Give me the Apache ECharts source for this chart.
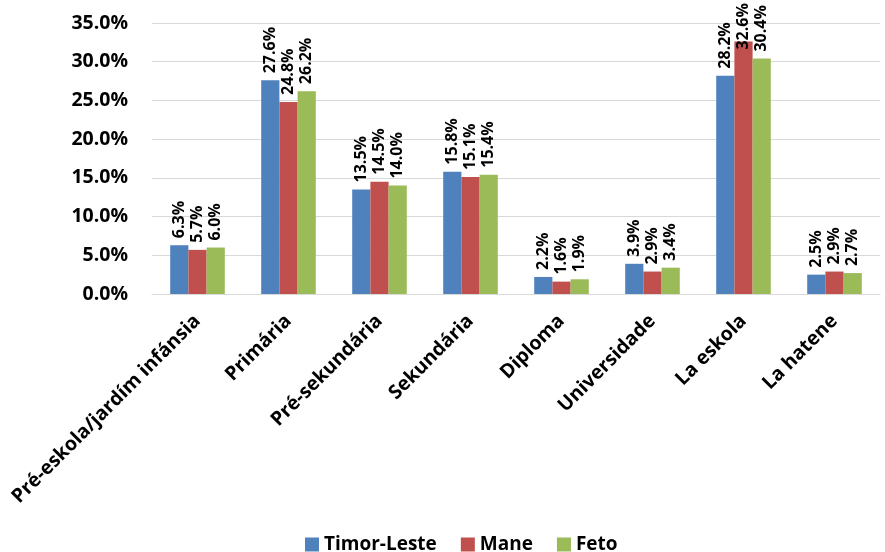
<!DOCTYPE html>
<html>
<head>
<meta charset="utf-8">
<script src="https://cdn.jsdelivr.net/npm/echarts@6/dist/echarts.min.js"></script>
<style>
  html, body { margin: 0; padding: 0; background: #fff; }
  #chart { width: 885px; height: 552px; }
</style>
</head>
<body>
<div id="chart"></div>
<script>
// data
const categories = ['Pré-eskola/jardím infánsia', 'Primária', 'Pré-sekundária', 'Sekundária', 'Diploma', 'Universidade', 'La eskola', 'La hatene']
const timorLeste = [6.3, 27.6, 13.5, 15.8, 2.2, 3.9, 28.2, 2.5]
const mane = [5.7, 24.8, 14.5, 15.1, 1.6, 2.9, 32.6, 2.9]
const feto = [6.0, 26.2, 14.0, 15.4, 1.9, 3.4, 30.4, 2.7]
const seriesNames = ['Timor-Leste', 'Mane', 'Feto']
const colors = ['#4f81bd', '#c0504d', '#9bbb59']

const font = 'Open Sans'
const myChart = echarts.init(document.getElementById('chart'))

function makeSeries(name, data, color) {
  return {
    name: name,
    type: 'bar',
    // labels that would run off the top get pushed back down onto the bar
    data: data.map(v => v > 31 ? { value: v, label: { distance: -8 } } : v),
    barGap: '0%',
    barCategoryGap: '40%',
    itemStyle: { color: color },
    label: {
      show: true,
      position: 'top',
      rotate: 90,
      align: 'left',
      verticalAlign: 'middle',
      distance: 7,
      color: '#000',
      fontFamily: font,
      fontWeight: 'bold',
      fontSize: 16,
      formatter: p => p.value.toFixed(1) + '%'
    }
  }
}

const option = {
  animation: false,
  color: colors,
  grid: {
    left: 152,
    right: 5,
    top: 23,
    bottom: 258
  },
  legend: {
    top: 530,
    left: 300,
    itemWidth: 14,
    itemHeight: 14,
    itemGap: 24,
    icon: 'rect',
    textStyle: { fontFamily: font, fontWeight: 'bold', fontSize: 19, color: '#000' },
    data: seriesNames
  },
  xAxis: {
    type: 'category',
    data: categories,
    axisTick: { show: false },
    axisLine: { lineStyle: { color: '#d9d9d9' } },
    axisLabel: {
      rotate: 45,
      interval: 0,
      margin: 24,
      color: '#000',
      fontFamily: font,
      fontWeight: 'bold',
      fontSize: 19.5
    }
  },
  yAxis: {
    type: 'value',
    min: 0,
    max: 35,
    interval: 5,
    axisLine: { show: false },
    axisTick: { show: false },
    splitLine: { lineStyle: { color: '#d9d9d9', width: 1 } },
    axisLabel: {
      margin: 24,
      color: '#000',
      fontFamily: font,
      fontWeight: 'bold',
      fontSize: 19.5,
      formatter: v => v.toFixed(1) + '%'
    }
  },
  series: [
    makeSeries(seriesNames[0], timorLeste, colors[0]),
    makeSeries(seriesNames[1], mane, colors[1]),
    makeSeries(seriesNames[2], feto, colors[2])
  ]
}

myChart.setOption(option)
</script>
</body>
</html>
